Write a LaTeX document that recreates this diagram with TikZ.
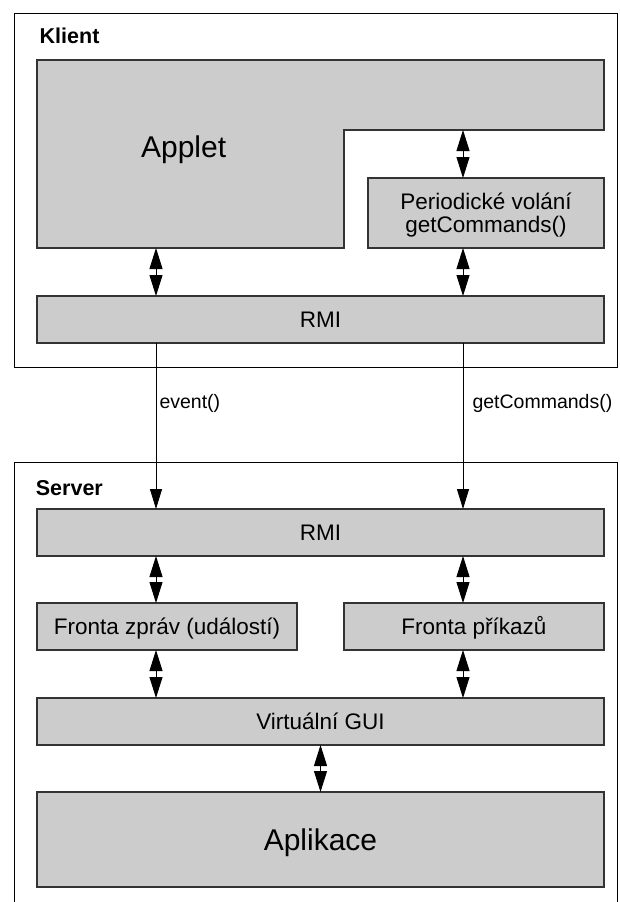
\documentclass[tikz,border=0pt]{standalone}
\usepackage{fontspec}
\setmainfont{Liberation Sans}
\usetikzlibrary{arrows.meta}
\definecolor{boxfill}{HTML}{CCCCCC}
\definecolor{boxline}{HTML}{333333}
\begin{document}
\begin{tikzpicture}[x=1pt,y=-1pt,
  box/.style={draw=boxline, line width=1.1pt, fill=boxfill, inner sep=0pt, outer sep=0pt,
    font=\fontsize{22.5}{23.4}\selectfont, align=center, text height=16.1pt, text depth=0pt},
  greyarea/.style={draw=boxline, line width=1.1pt, fill=boxfill},
  frame/.style={draw=black, line width=1pt},
  dbl/.style={line width=0.9pt, {Triangle[length=21pt,width=13pt]}-{Triangle[length=21pt,width=13pt]}},
  call/.style={line width=0.9pt, -{Triangle[length=20pt,width=12pt]}},
  title/.style={font=\bfseries\fontsize{21.5}{25}\selectfont, anchor=base west, inner sep=0pt},
  big/.style={font=\fontsize{30}{36}\selectfont, anchor=base, inner sep=0pt},
  calllabel/.style={font=\fontsize{19.5}{23}\selectfont, anchor=base west, inner sep=0pt}
]
\fill[white] (0,0) rectangle (619,902);
\useasboundingbox (0,0) rectangle (619,902);

% column positions of the vertical connectors
\coordinate (colA) at (156,0);
\coordinate (colB) at (463,0);
\coordinate (colC) at (320.5,0);

% ---------------- client ----------------
\draw[frame] (14,13) rectangle (617,367);
\node[title] (klient) at (39.5,43.5) {Klient};

% applet area (L-shaped)
\draw[greyarea] (37,60) -- (604,60) -- (604,130) -- (344,130) -- (344,248) -- (37,248) -- cycle;
\node[big] (applet) at (183.6,157) {Applet};
\coordinate (applet-s) at (156,248);
\coordinate (applet-e) at (463,130);

\node[box, minimum width=236pt, minimum height=70pt, text height=39.4pt] (poll) at (486,213)
  {Periodické volání\\getCommands()};
\node[box, minimum width=567pt, minimum height=47pt] (krmi) at (320.5,319.5) {RMI};

\draw[dbl] (applet-e) -- (poll.north -| applet-e);
\draw[dbl] (applet-s) -- (krmi.north -| applet-s);
\draw[dbl] (poll.south -| colB) -- (krmi.north -| colB);

% ---------------- server ----------------
\draw[frame] (14,902) -- (14,462) -- (617,462) -- (617,902);
\node[title] (server) at (35.7,495) {Server};

\node[box, minimum width=567pt, minimum height=47pt] (srmi) at (320.5,532.5) {RMI};
\node[box, minimum width=260pt, minimum height=47pt] (events) at (167,626.5) {Fronta zpráv (událostí)};
\node[box, minimum width=260pt, minimum height=47pt] (cmds) at (474,626.5) {Fronta příkazů};
\node[box, minimum width=567pt, minimum height=47pt] (vgui) at (320.5,721.5) {Virtuální GUI};
\node[greyarea, minimum width=567pt, minimum height=95pt, inner sep=0pt, outer sep=0pt] (app) at (320.5,839.5) {};
\node[big] (applabel) at (320.5,850) {Aplikace};

\draw[dbl] (srmi.south -| colA) -- (events.north -| colA);
\draw[dbl] (srmi.south -| colB) -- (cmds.north -| colB);
\draw[dbl] (events.south -| colA) -- (vgui.north -| colA);
\draw[dbl] (cmds.south -| colB) -- (vgui.north -| colB);
\draw[dbl] (vgui.south -| colC) -- (app.north -| colC);

% ---------------- remote calls ----------------
\draw[call] (krmi.south -| colA) -- (srmi.north -| colA);
\draw[call] (krmi.south -| colB) -- (srmi.north -| colB);
\node[calllabel] (evlabel) at (159.3,408) {event()};
\node[calllabel] (gclabel) at (472.3,408) {getCommands()};
\end{tikzpicture}
\end{document}
